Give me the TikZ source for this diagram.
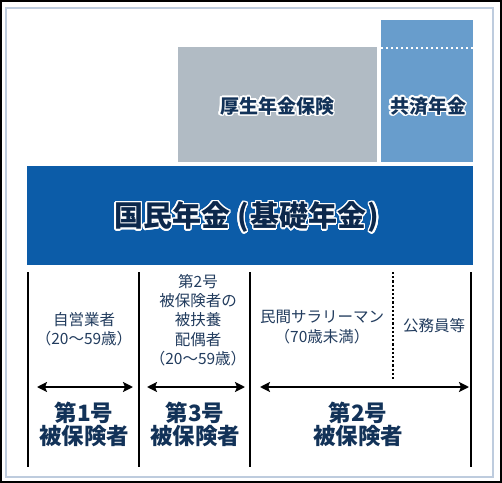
\documentclass[tikz,border=0pt]{standalone}
\usepackage{fontspec}
\newfontfamily\jp{Noto Sans CJK JP}
\usepackage{contour}
\contourlength{1.5pt}
\contournumber{20}
\usetikzlibrary{arrows.meta}
\definecolor{banner}{RGB}{12,92,168}
\definecolor{kgray}{RGB}{177,187,196}
\definecolor{kblue}{RGB}{104,157,204}
\definecolor{navy}{RGB}{18,50,88}
\definecolor{titlec}{RGB}{12,40,76}
\definecolor{smalltxt}{RGB}{34,60,94}
\definecolor{framec}{RGB}{190,204,222}
\tikzset{
  block/.style={inner sep=0pt, outer sep=0pt, anchor=north west},
  small/.style={font=\jp\fontsize{15.5bp}{19.2bp}\selectfont, text=smalltxt, align=center, inner sep=0pt},
  big/.style={font=\jp\bfseries\fontsize{22.5bp}{23bp}\selectfont, text=navy, align=center, inner sep=0pt},
  toptxt/.style={font=\jp\bfseries\fontsize{19bp}{20bp}\selectfont, text=navy, inner sep=0pt},
  titletxt/.style={font=\jp\bfseries\fontsize{29bp}{30bp}\selectfont, text=titlec, inner sep=0pt},
  divider/.style={line width=2.6bp, black},
  dotdiv/.style={line width=2.6bp, black, dash pattern=on 2.2bp off 2bp},
  arr/.style={line width=2.2bp, black, {Stealth[length=10bp,width=10bp,inset=2bp]}-{Stealth[length=10bp,width=10bp,inset=2bp]}}
}
\begin{document}
\begin{tikzpicture}[x=1bp,y=-1bp]
\useasboundingbox (0,0) rectangle (502,483);
\fill[white] (0,0) rectangle (502,483);
% frames
\draw[black, line width=1.6bp] (0.8,0.8) rectangle (501.2,482.2);
\draw[framec, line width=2bp] (6,8) rectangle (493,477);
% upper blocks
\node[block, fill=kgray, minimum width=199bp, minimum height=115bp] (kousei) at (178,47) {};
\node[block, fill=kblue, minimum width=92bp, minimum height=142bp] (kyosai) at (381,20) {};
\coordinate (kdl) at (381,48);
\coordinate (kdr) at (473,48);
\draw[white, line width=2.2bp, dash pattern=on 2.2bp off 2.8bp] (kdl) -- (kdr);
\node[toptxt] (kouseit) at (277,107) {\contour{white}{厚生年金保険}};
\node[toptxt] (kyosait) at (428,107) {\contour{white}{共済年金}};
% banner
\node[block, fill=banner, minimum width=446bp, minimum height=99bp] (kokumin) at (27,166) {};
\node[titletxt] (kokumint) at (247,218) {\contour{white}{国民年金\hspace{7bp}(\hspace{1.5bp}基礎年金\hspace{1.5bp})}};
% dividers
\coordinate (v1t) at (28,272);  \coordinate (v1b) at (28,467);
\coordinate (v2t) at (139,272); \coordinate (v2b) at (139,467);
\coordinate (v3t) at (250,272); \coordinate (v3b) at (250,467);
\coordinate (v4t) at (471,272); \coordinate (v4b) at (471,467);
\coordinate (vdt) at (393,272); \coordinate (vdb) at (393,380);
\draw[divider] (v1t) -- (v1b);
\draw[divider] (v2t) -- (v2b);
\draw[divider] (v3t) -- (v3b);
\draw[divider] (v4t) -- (v4b);
\draw[dotdiv] (vdt) -- (vdb);
% arrows
\coordinate (a1l) at (37,387);  \coordinate (a1r) at (133,387);
\coordinate (a2l) at (147,387); \coordinate (a2r) at (245,387);
\coordinate (a3l) at (260,387); \coordinate (a3r) at (469,387);
\draw[arr] (a1l) -- (a1r);
\draw[arr] (a2l) -- (a2r);
\draw[arr] (a3l) -- (a3r);
% small texts
\node[small] (jiei) at (84,329) {自営業者\\（20〜59歳）};
\node[small] (haigu) at (198,320) {第2号\\被保険者の\\被扶養\\配偶者\\（20〜59歳）};
\node[small] (minkan) at (322,327) {民間サラリーマン\\（70歳未満）};
\node[small] (koumu) at (434,326) {公務員等};
% category labels
\node[big] (g1) at (84,424) {第1号\\被保険者};
\node[big] (g3) at (195,424) {第3号\\被保険者};
\node[big] (g2) at (358,424) {第2号\\被保険者};
\end{tikzpicture}
\end{document}
